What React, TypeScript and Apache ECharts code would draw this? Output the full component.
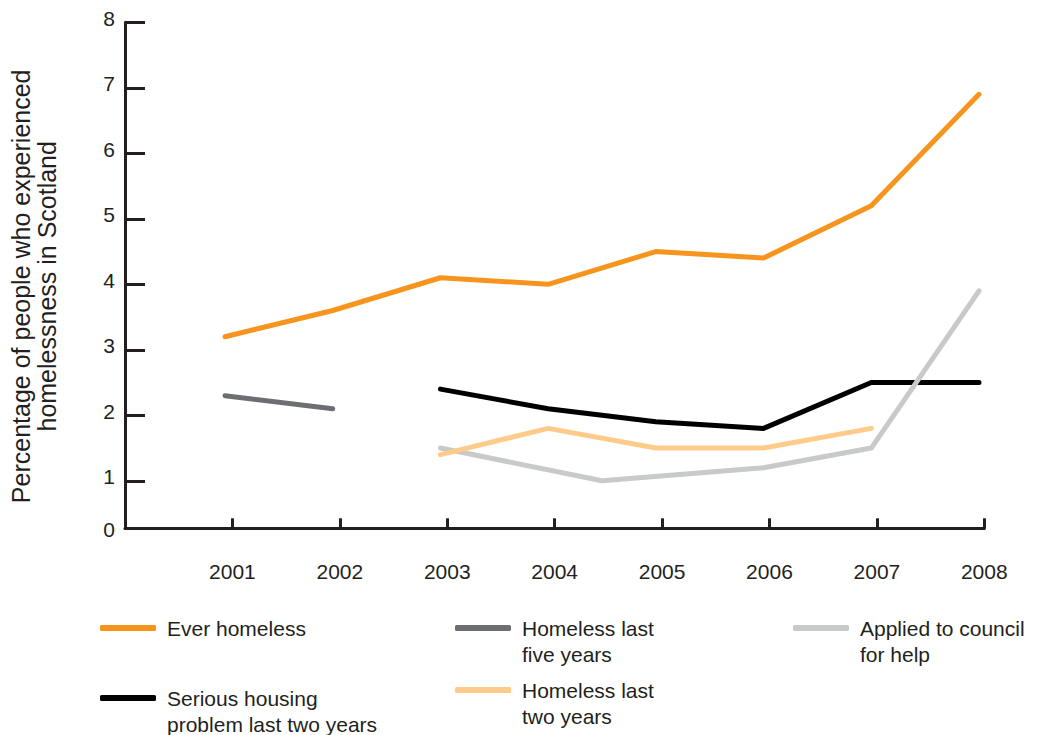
import React, { useEffect, useRef } from "react";
import * as echarts from "echarts";

// ---- data ----
const YEARS = [2001, 2002, 2003, 2004, 2005, 2006, 2007, 2008];
const Y_TICKS = [1, 2, 3, 4, 5, 6, 7, 8];
const Y_BASE = 0.275; // value where the drawn baseline (labelled 0) sits

const EVER_X = [2001, 2002, 2003, 2004, 2005, 2006, 2007, 2008];
const EVER_Y = [3.2, 3.6, 4.1, 4.0, 4.5, 4.4, 5.2, 6.9];

const FIVE_X = [2001, 2002];
const FIVE_Y = [2.3, 2.1];

const SERIOUS_X = [2003, 2004, 2005, 2006, 2007, 2008];
const SERIOUS_Y = [2.4, 2.1, 1.9, 1.8, 2.5, 2.5];

const TWO_X = [2003, 2004, 2005, 2006, 2007];
const TWO_Y = [1.4, 1.8, 1.5, 1.5, 1.8];

const COUNCIL_X = [2003, 2004.5, 2006, 2007, 2008];
const COUNCIL_Y = [1.5, 1.0, 1.2, 1.5, 3.9];

const NAMES = {
  ever: "Ever homeless",
  five: "Homeless last five years",
  council: "Applied to council for help",
  serious: "Serious housing problem last two years",
  two: "Homeless last two years",
};
const LEGEND_LINES: Record<string, string[]> = {
  [NAMES.ever]: ["Ever homeless"],
  [NAMES.five]: ["Homeless last", "five years"],
  [NAMES.council]: ["Applied to council", "for help"],
  [NAMES.serious]: ["Serious housing", "problem last two years"],
  [NAMES.two]: ["Homeless last", "two years"],
};
const Y_TITLE = "Percentage of people who experienced\nhomelessness in Scotland";

const pairs = (xs: number[], ys: number[]) => xs.map((x, i) => [x, ys[i]]);

const FONT = "'Liberation Sans', Arial, Helvetica, sans-serif";
const INK = "#231f20";
const COLORS = {
  ever: "#f7941d",
  five: "#6d6e71",
  council: "#c8c9cb",
  serious: "#000000",
  two: "#ffcb8a",
};

function lineSeries(name: string, data: number[][], color: string) {
  return {
    type: "line",
    name,
    xAxisIndex: 1,
    yAxisIndex: 1,
    data,
    color,
    showSymbol: false,
    symbol: "none",
    itemStyle: { color },
    lineStyle: { color, width: 5, cap: "round", join: "round" },
    emphasis: { disabled: true },
  };
}

// two-line labels get an empty leading line so the first text line sits on the swatch
function legendItem(name: string, left: number, top: number) {
  return {
    show: true,
    left,
    top,
    padding: 0,
    orient: "horizontal",
    itemWidth: 56,
    itemHeight: 6,
    icon: "roundRect",
    selectedMode: false,
    data: [{ name }],
    formatter: (n: string) => {
      const lines = LEGEND_LINES[n] ?? [n];
      return lines.length > 1 ? "\n" + lines.join("\n") : lines[0];
    },
    textStyle: {
      fontFamily: FONT,
      fontSize: 21,
      lineHeight: 26,
      color: INK,
      padding: [0, 0, 0, 6],
    },
  };
}

export default function App() {
  const ref = useRef<HTMLDivElement>(null);
  useEffect(() => {
    if (!ref.current) return;
    const chart = echarts.init(ref.current, undefined, { renderer: "svg" });
    const labelFont = { fontFamily: FONT, fontSize: 21, color: INK };
    const option: any = {
      animation: false,
      backgroundColor: "#ffffff",
      textStyle: { fontFamily: FONT },
      grid: [
        { left: 125, right: 52.7, top: 22.3, bottom: 206.7, containLabel: false, outerBoundsMode: "none" },
        { left: 117.3, right: 58, top: 22.3, bottom: 188.7, containLabel: false, outerBoundsMode: "none" },
      ],
      xAxis: [
        {
          type: "value",
          gridIndex: 0,
          min: 2000,
          max: 2008,
          interval: 1,
          axisLine: { show: true, onZero: false, lineStyle: { color: INK, width: 3 } },
          axisTick: { show: true, inside: true, length: 10, lineStyle: { color: INK, width: 3 } },
          splitLine: { show: false },
          axisLabel: {
            customValues: YEARS,
            formatter: (v: number) => String(v),
            ...labelFont,
            lineHeight: 21,
            margin: 33,
          },
        },
        { type: "value", gridIndex: 1, min: 2000, max: 2008, show: false },
      ],
      yAxis: [
        {
          type: "value",
          gridIndex: 0,
          min: Y_BASE,
          max: 8,
          axisLine: { show: true, onZero: false, lineStyle: { color: INK, width: 3 } },
          axisTick: {
            show: true,
            inside: true,
            length: 20,
            customValues: Y_TICKS,
            lineStyle: { color: INK, width: 3 },
          },
          splitLine: { show: false },
          axisLabel: {
            customValues: [Y_BASE, ...Y_TICKS],
            formatter: (v: number) => (v < 1 ? "{z|0}" : "{n|" + v + "}"),
            ...labelFont,
            margin: 10,
            rich: {
              n: { ...labelFont, lineHeight: 21, padding: [0, 0, 8, 0] },
              z: { ...labelFont, lineHeight: 21, padding: [3, 0, 0, 0] },
            },
          },
          name: Y_TITLE,
          nameLocation: "middle",
          nameGap: 65,
          nameTextStyle: {
            fontFamily: FONT,
            fontSize: 25,
            lineHeight: 26,
            color: INK,
            padding: [0, 22, 0, 0],
          },
        },
        { type: "value", gridIndex: 1, min: 0, max: 8, show: false },
      ],
      legend: [
        legendItem(NAMES.ever, 100, 615),
        legendItem(NAMES.five, 455, 589),
        legendItem(NAMES.council, 793, 589),
        legendItem(NAMES.serious, 100, 659),
        legendItem(NAMES.two, 455, 651),
      ],
      series: [
        lineSeries(NAMES.serious, pairs(SERIOUS_X, SERIOUS_Y), COLORS.serious),
        lineSeries(NAMES.council, pairs(COUNCIL_X, COUNCIL_Y), COLORS.council),
        lineSeries(NAMES.two, pairs(TWO_X, TWO_Y), COLORS.two),
        lineSeries(NAMES.five, pairs(FIVE_X, FIVE_Y), COLORS.five),
        lineSeries(NAMES.ever, pairs(EVER_X, EVER_Y), COLORS.ever),
      ],
    };
    chart.setOption(option);
    return () => chart.dispose();
  }, []);
  return (
    <div
      ref={ref}
      style={{ position: "fixed", left: 0, top: 0, width: 1037, height: 735, background: "#fff" }}
    />
  );
}
